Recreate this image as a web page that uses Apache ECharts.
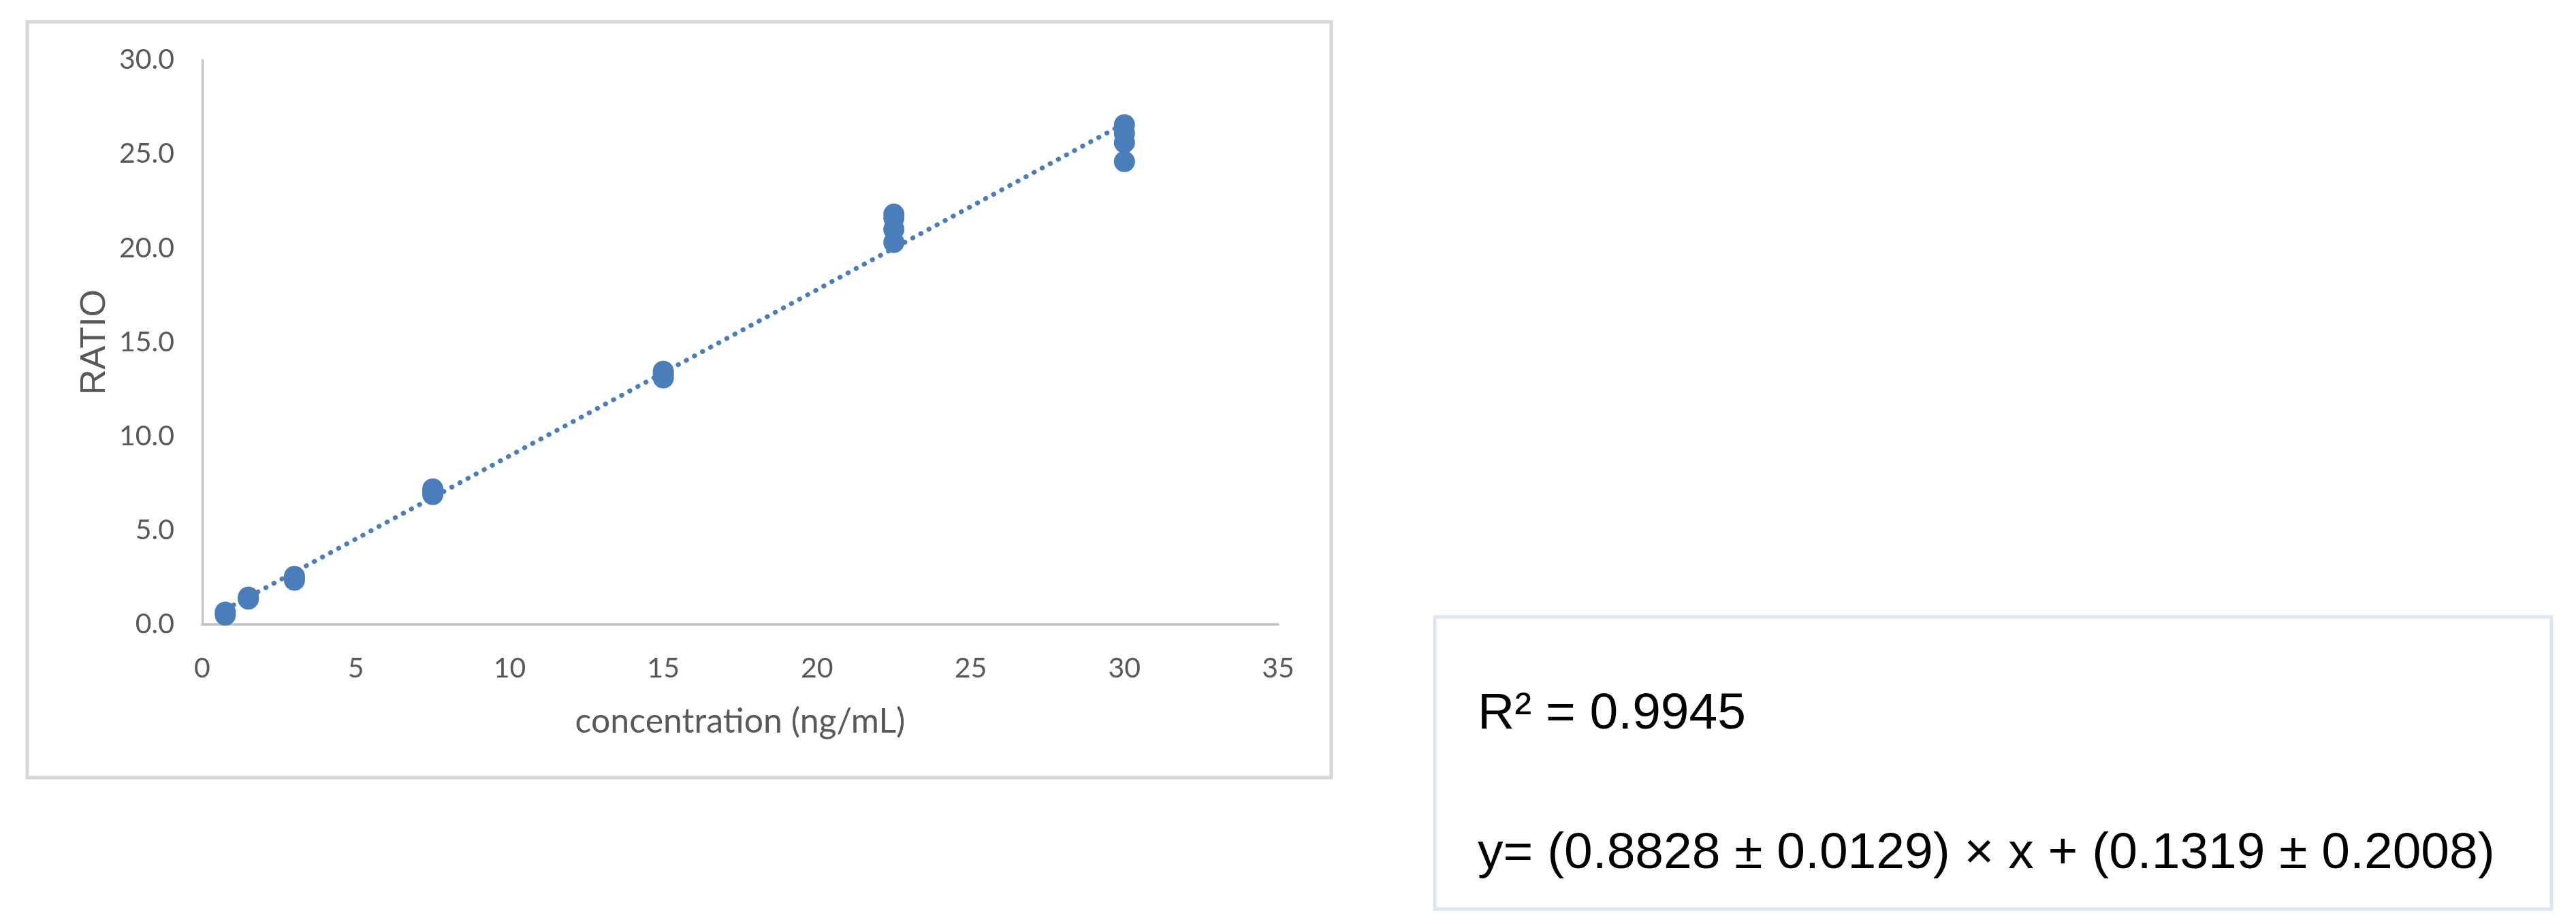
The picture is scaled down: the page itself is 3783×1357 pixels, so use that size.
<!DOCTYPE html>
<html>
<head>
<meta charset="utf-8">
<script src="https://cdn.jsdelivr.net/npm/echarts@6/dist/echarts.min.js"></script>
<style>
  html, body { margin: 0; padding: 0; background: #fff; }
  #chart { width: 3783px; height: 1357px; }
</style>
</head>
<body>
<div id="chart"></div>
<script>
// calibration points
const concentration = [0.75, 0.75, 1.5, 1.5, 3, 3, 7.5, 7.5, 7.5, 15, 15, 15, 22.5, 22.5, 22.5, 22.5, 30, 30, 30, 30];
const ratio = [0.5, 0.65, 1.35, 1.45, 2.35, 2.55, 6.9, 7.05, 7.2, 13.1, 13.3, 13.45, 20.3, 21.0, 21.6, 21.8, 24.6, 25.6, 26.1, 26.55];

// trendline end points
const trendX = [0.75, 30];
const trendY = [0.79, 26.62];

const xTicks = { min: 0, max: 35, interval: 5 };
const yTicks = { min: 0, max: 30, interval: 5 };

const r2Text = 'R\u00b2 = 0.9945';
const eqText = 'y= (0.8828 \u00b1 0.0129) \u00d7 x + (0.1319 \u00b1 0.2008)';

const BLUE = '#4a7ebb';
const GREY = '#595959';

const myChart = echarts.init(document.getElementById('chart'));

let option = {
    animation: false,
    backgroundColor: '#fff',
    grid: {
        left: 297,
        top: 88,
        right: 3783 - 1877,
        bottom: 1357 - 917
    },
    xAxis: {
        type: 'value',
        min: xTicks.min,
        max: xTicks.max,
        interval: xTicks.interval,
        name: 'concentration (ng/mL)',
        nameLocation: 'middle',
        nameGap: 118,
        nameTextStyle: {
            fontFamily: 'Lato',
            fontSize: 50,
            color: GREY
        },
        axisLine: { lineStyle: { color: '#bfbfbf', width: 3.5 } },
        axisTick: { show: false },
        splitLine: { show: false },
        axisLabel: {
            margin: 44,
            fontFamily: 'Lato',
            fontSize: 41,
            color: GREY
        }
    },
    yAxis: {
        type: 'value',
        min: yTicks.min,
        max: yTicks.max,
        interval: yTicks.interval,
        name: 'RATIO',
        nameLocation: 'middle',
        nameGap: 131,
        nameTextStyle: {
            fontFamily: 'Liberation Sans',
            fontSize: 52,
            color: GREY
        },
        axisLine: { show: true, lineStyle: { color: '#bfbfbf', width: 3 } },
        axisTick: { show: false },
        splitLine: { show: false },
        axisLabel: {
            margin: 41,
            fontFamily: 'Lato',
            fontSize: 41,
            color: GREY,
            formatter: function (value) {
                return value.toFixed(1);
            }
        }
    },
    graphic: [
        {
            type: 'rect',
            shape: { x: 40, y: 32, width: 1915, height: 1110 },
            style: { fill: 'none', stroke: '#d6d6d6', lineWidth: 5 },
            z: -1
        },
        {
            type: 'rect',
            shape: { x: 2107, y: 906, width: 1640, height: 429 },
            style: { fill: 'none', stroke: '#dce6f2', lineWidth: 5 }
        },
        {
            type: 'text',
            left: 2170,
            top: 1050 - 38,
            style: {
                text: r2Text,
                fontFamily: 'Liberation Sans',
                fontSize: 75,
                fill: '#000'
            }
        },
        {
            type: 'text',
            left: 2170,
            top: 1257 - 40,
            style: {
                text: eqText,
                fontFamily: 'Liberation Sans',
                fontSize: 75,
                fill: '#000'
            }
        }
    ],
    series: [
        {
            type: 'scatter',
            symbol: 'circle',
            symbolSize: 31,
            itemStyle: { color: BLUE, opacity: 1 },
            data: concentration.map((x, i) => [x, ratio[i]]),
            z: 3
        },
        {
            type: 'line',
            showSymbol: false,
            symbol: 'none',
            lineStyle: { color: BLUE, width: 7, type: [0.5, 13], cap: 'round' },
            data: trendX.map((x, i) => [x, trendY[i]]),
            z: 4
        }
    ]
};
myChart.setOption(option);
</script>
</body>
</html>
